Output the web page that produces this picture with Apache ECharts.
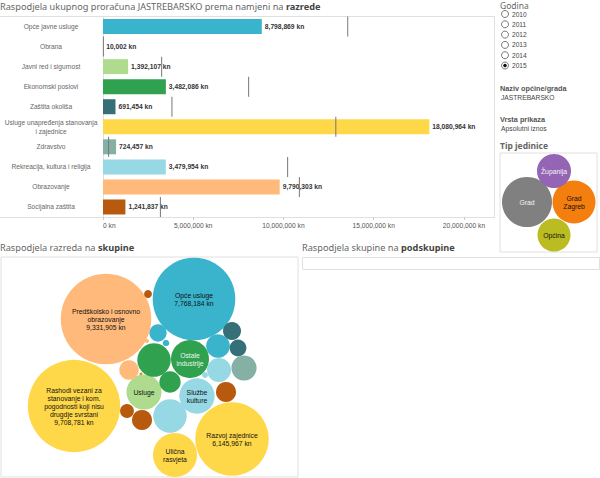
<!DOCTYPE html>
<html>
<head>
<meta charset="utf-8">
<script src="https://cdn.jsdelivr.net/npm/echarts@6/dist/echarts.min.js"></script>
<style>
  html, body { margin: 0; padding: 0; background: #fff; }
  #chart { width: 600px; height: 478px; }
</style>
</head>
<body>
<div id="chart"></div>
<script>
// top chart: budget by class
const categories = ['Opće javne usluge', 'Obrana', 'Javni red i sigurnost', 'Ekonomski poslovi', 'Zaštita okoliša',
    'Usluge unapređenja stanovanja\ni zajednice', 'Zdravstvo', 'Rekreacija, kultura i religija', 'Obrazovanje', 'Socijalna zaštita'];
const amounts = [8798869, 10002, 1392107, 3482086, 691454, 18080964, 724457, 3479954, 9790303, 1241837];
const referenceLines = [13560000, 20000, 3250000, 8070000, 3820000, 12900000, 310000, 10230000, 10880000, 3180000];
const classColors = ['#3ab4cc', '#f57f0e', '#aedb8e', '#2fa14f', '#357078', '#ffd84a', '#85b1a5', '#96d8e4', '#ffb97a', '#b85a0e'];
const axisTicks = [0, 5000000, 10000000, 15000000, 20000000];

// bubble chart: groups. Unnamed bubbles have no printed value, sizes estimated from the picture
const groupClass = [0, 0, 0, 0, 1, 2, 3, 3, 3, 4, 4, 5, 5, 5, 6, 7, 7, 7, 7, 8, 8, 8, 9, 9, 9, 9];
const groupNames = ['Opće usluge', '', '', '', '', 'Usluge', 'Ostale\nindustrije', '', '', '', '',
    'Rashodi vezani za\nstanovanje i kom.\npogodnosti koji nisu\ndrugdje svrstani', 'Razvoj zajednice', 'Ulična\nrasvjeta', '',
    'Službe\nkulture', '', '', '', 'Predškolsko i osnovno\nobrazovanje', '', '', '', '', '', ''];
const groupValues = [7768184, 340000, 50000, 640000, 10002, 1392107, 1640000, 1270000, 520000, 370000, 320000,
    9708781, 6145967, 2200000, 724457, 1420000, 1270000, 660000, 40000, 9331905, 430000, 18000, 70000, 220000, 460000, 460000];
const groupShowValue = [0, 11, 12, 19];
// bubble centres, in the units of the hidden axes
const groupX = [193, 157, 165, 217, 140, 143, 189, 153, 169, 231, 237, 73, 231, 174, 243, 196, 169, 218, 204, 105, 128, 146, 147, 126, 141, 225];
const groupY = [42, 76, 86, 89, 117, 135, 102, 103, 125, 74, 91, 149, 182, 198, 111, 139, 159, 113, 118, 62, 113, 84, 37, 154, 163, 135];

// unit type bubbles
const unitNames = ['Grad', 'Grad\nZagreb', 'Županija', 'Općina'];
const unitSizes = [50, 43, 34, 33];
const unitX = [27, 74, 54, 54];
const unitY = [49, 49, 18, 82];
const unitColors = ['#808080', '#f57f0e', '#9565b5', '#bbbb22'];
const unitTextColors = ['#f4f4f4', '#111', '#f4f4f4', '#111'];

const years = ['2010', '2011', '2012', '2013', '2014', '2015'];
const selectedYear = '2015';

const bubbleScale = 14.82; // px radius per sqrt(million kn)
const sansFont = '"Liberation Sans", Arial, sans-serif';
const titleFont = '"Noto Sans", sans-serif';

function formatKn(value) {
    return value.toString().replace(/\B(?=(\d{3})+(?!\d))/g, ',') + ' kn';
}

function panelText(text, x, y, style) {
    return {
        type: 'text', x: x, y: y, silent: true,
        style: Object.assign({ text: text, font: '6.8px ' + sansFont, fill: '#444' }, style)
    };
}

function radioButtons() {
    const items = [];
    years.forEach((year, i) => {
        const cy = 14 + i * 10.3;
        items.push({ type: 'circle', shape: { cx: 505, cy: cy, r: 3.5 }, style: { fill: '#fff', stroke: '#555', lineWidth: 0.8 }, silent: true });
        if (year === selectedYear) {
            items.push({ type: 'circle', shape: { cx: 505, cy: cy, r: 1.8 }, style: { fill: '#111' }, silent: true });
        }
        items.push(panelText(year, 512, cy - 3.5, { font: '6.6px ' + sansFont }));
    });
    return items;
}

const chart = echarts.init(document.getElementById('chart'), null, { renderer: 'svg' });

const titleRich = {
    a: { fontFamily: titleFont, fontSize: 9.2, color: '#666', fontWeight: 'normal' },
    b: { fontFamily: titleFont, fontSize: 9.2, color: '#444', fontWeight: 'bold' }
};

chart.setOption({
    animation: false,
    title: [
        { text: '{a|Raspodjela ukupnog proračuna JASTREBARSKO prema namjeni na }{b|razrede}', left: 0, top: 2, padding: 0, textStyle: { rich: titleRich } },
        { text: '{a|Raspodjela razreda na }{b|skupine}', left: 0, top: 243, padding: 0, textStyle: { rich: titleRich } },
        { text: '{a|Raspodjela skupine na }{b|podskupine}', left: 302, top: 243, padding: 0, textStyle: { rich: titleRich } }
    ],
    grid: [
        { left: 103, top: 16.5, width: 392, height: 200.5, outerBoundsMode: 'none' },
        { left: 1, top: 257, width: 297, height: 220, show: true, borderColor: '#e0e0e0', borderWidth: 1, outerBoundsMode: 'none' },
        { left: 500, top: 153, width: 97, height: 99, show: true, borderColor: '#e0e0e0', borderWidth: 1, outerBoundsMode: 'none' }
    ],
    xAxis: [
        {
            type: 'value', gridIndex: 0, min: 0, max: 21720000,
            splitLine: { show: false },
            axisLine: { show: false },
            axisTick: { show: true, length: 3, customValues: axisTicks, lineStyle: { color: '#ccc' } },
            axisLabel: { customValues: axisTicks, margin: 5, alignMinLabel: 'left', fontFamily: sansFont, fontSize: 6.7, color: '#555', formatter: formatKn }
        },
        { type: 'value', gridIndex: 1, min: 0, max: 297, show: false },
        { type: 'value', gridIndex: 2, min: 0, max: 97, show: false }
    ],
    yAxis: [
        {
            type: 'category', gridIndex: 0, data: categories, inverse: true,
            axisLine: { show: true, lineStyle: { color: '#e0e0e0' } },
            axisTick: { show: false },
            axisLabel: { align: 'center', margin: 52, fontFamily: sansFont, fontSize: 6.6, lineHeight: 8.5, color: '#666' }
        },
        { type: 'value', gridIndex: 1, min: 0, max: 220, inverse: true, show: false },
        { type: 'value', gridIndex: 2, min: 0, max: 99, inverse: true, show: false }
    ],
    series: [
        {
            type: 'bar', xAxisIndex: 0, yAxisIndex: 0, barWidth: 15,
            data: amounts.map((v, i) => ({ value: v, itemStyle: { color: classColors[i] } })),
            label: {
                show: true, position: 'right', distance: 3, fontFamily: sansFont, fontSize: 6.7,
                fontWeight: 'bold', color: '#333', formatter: p => formatKn(p.value)
            }
        },
        {
            type: 'scatter', xAxisIndex: 0, yAxisIndex: 0, symbol: 'rect', symbolSize: [1, 20], z: 5,
            itemStyle: { color: '#777', opacity: 1 },
            data: referenceLines.map((v, i) => [v, i])
        },
        {
            type: 'scatter', xAxisIndex: 1, yAxisIndex: 1,
            data: groupValues.map((v, i) => ({
                value: [groupX[i], groupY[i]],
                symbolSize: 2 * bubbleScale * Math.sqrt(v / 1000000),
                name: groupNames[i],
                itemStyle: { color: classColors[groupClass[i]], opacity: 1 },
                label: {
                    show: groupNames[i] !== '',
                    color: i === 6 ? '#eef5ee' : '#111',
                    formatter: groupNames[i] + (groupShowValue.includes(i) ? '\n' + formatKn(v) : '')
                }
            })),
            label: { position: 'inside', fontFamily: sansFont, fontSize: 6.8, lineHeight: 8, align: 'center' }
        },
        {
            type: 'scatter', xAxisIndex: 2, yAxisIndex: 2,
            data: unitNames.map((n, i) => ({
                value: [unitX[i], unitY[i]],
                symbolSize: unitSizes[i],
                itemStyle: { color: unitColors[i], opacity: 1 },
                label: { show: true, color: unitTextColors[i], formatter: n }
            })),
            label: { position: 'inside', fontFamily: sansFont, fontSize: 6.8, lineHeight: 8, align: 'center' }
        }
    ],
    graphic: [
        { type: 'line', shape: { x1: 0, y1: 16.5, x2: 495, y2: 16.5 }, style: { stroke: '#e0e0e0', lineWidth: 1 }, silent: true },
        { type: 'line', shape: { x1: 0, y1: 217.5, x2: 495, y2: 217.5 }, style: { stroke: '#e0e0e0', lineWidth: 1 }, silent: true },
        { type: 'line', shape: { x1: 494.5, y1: 16.5, x2: 494.5, y2: 217.5 }, style: { stroke: '#e0e0e0', lineWidth: 1 }, silent: true },
        { type: 'rect', shape: { x: 302.5, y: 257.5, width: 297, height: 12 }, style: { fill: '#fff', stroke: '#e0e0e0', lineWidth: 1 }, silent: true },
        panelText('Godina', 500, 1, { font: '8.5px ' + titleFont, fill: '#666' }),
        panelText('Naziv općine/grada', 500, 85, { font: 'bold 7.3px ' + sansFont, fill: '#555' }),
        panelText('JASTREBARSKO', 501, 93.5, { font: '6.7px ' + sansFont }),
        panelText('Vrsta prikaza', 500, 116, { font: 'bold 7.3px ' + sansFont, fill: '#555' }),
        panelText('Apsolutni iznos', 501, 125, { font: '6.8px ' + sansFont }),
        panelText('Tip jedinice', 500, 141, { font: 'bold 8.5px ' + titleFont, fill: '#666' })
    ].concat(radioButtons())
});
</script>
</body>
</html>
